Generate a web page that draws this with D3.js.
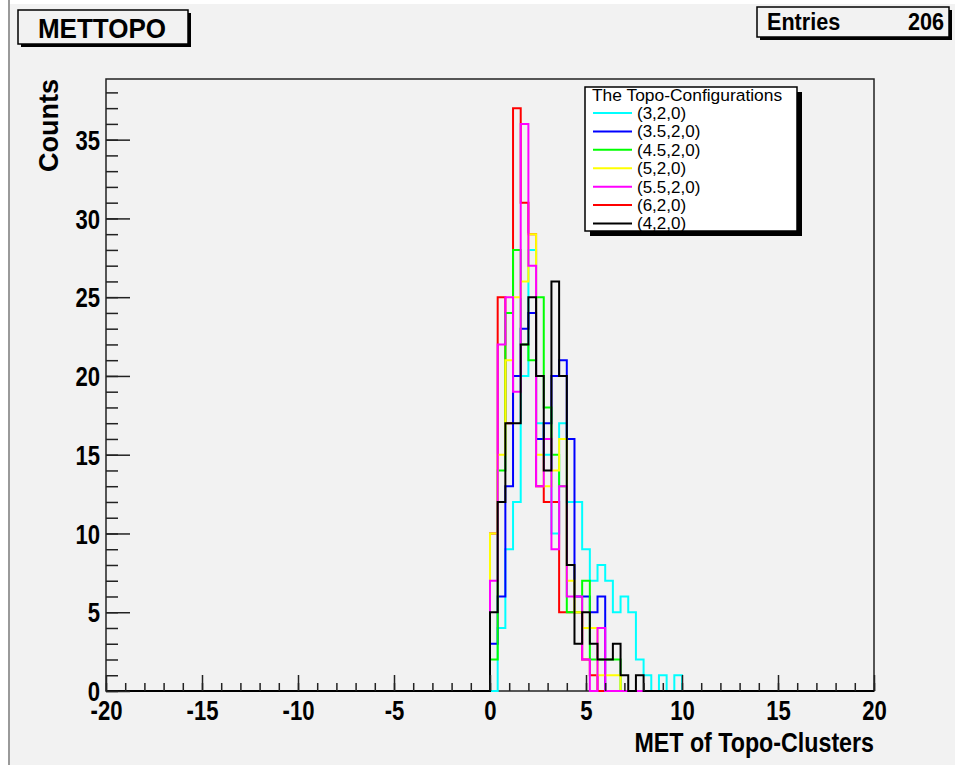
<!DOCTYPE html>
<html>
<head>
<meta charset="utf-8">
<script src="https://cdn.jsdelivr.net/npm/d3@7"></script>
<style>
  body { margin: 0; background: #fff; }
  svg { display: block; font-family: "Liberation Sans", Arial, Helvetica, sans-serif; }
</style>
</head>
<body>
<div id="chart"></div>
<script>
// Histogram METTOPO: 100 bins from -20 to 20, counts listed from the bin starting at x = 0
const X_MIN = -20, X_MAX = 20, N_BINS = 100;
const FIRST_FILLED_X = 0;

const configs = ['(3,2,0)', '(3.5,2,0)', '(4.5,2,0)', '(5,2,0)', '(5.5,2,0)', '(6,2,0)', '(4,2,0)'];
const colors  = ['#00ffff', '#0000ff', '#00ff00', '#ffff00', '#ff00ff', '#ff0000', '#000000'];

const counts_3_2_0   = [0, 4, 9, 12, 20, 28, 17, 15, 10, 17, 12, 12, 9, 7, 8, 7, 5, 6, 5, 2, 1, 0, 1, 0, 1, 0];
const counts_3p5_2_0 = [3, 6, 13, 20, 23, 24, 16, 17, 20, 21, 16, 6, 6, 5, 6, 0];
const counts_4p5_2_0 = [2, 14, 24, 28, 22, 21, 25, 18, 15, 13, 5, 5, 7, 2, 2, 2, 2, 0];
const counts_5_2_0   = [10, 15, 21, 25, 26, 29, 15, 13, 14, 16, 7, 5, 4, 4, 1, 1, 1, 0];
const counts_5p5_2_0 = [7, 22, 25, 19, 36, 27, 13, 16, 9, 13, 6, 6, 2, 0, 4, 0];
const counts_6_2_0   = [10, 25, 17, 37, 31, 29, 13, 12, 12, 5, 5, 5, 2, 1, 0];
const counts_4_2_0   = [5, 12, 17, 17, 22, 25, 20, 14, 26, 20, 8, 3, 5, 3, 2, 2, 3, 1, 0, 1, 0];

const seriesCounts = [counts_3_2_0, counts_3p5_2_0, counts_4p5_2_0, counts_5_2_0,
                      counts_5p5_2_0, counts_6_2_0, counts_4_2_0];
// order in which the histograms are painted (indices into configs)
const drawOrder = [5, 0, 1, 2, 3, 4, 6];

const xMajorTicks = [-20, -15, -10, -5, 0, 5, 10, 15, 20];
const yMajorTicks = [0, 5, 10, 15, 20, 25, 30, 35];
const entries = 206;

const W = 955, H = 765;
const frame = { left: 106, right: 874, top: 79, bottom: 691 };
const BG = '#f2f2f2';

const svg = d3.select('#chart').append('svg').attr('width', W).attr('height', H);

// canvas
svg.append('rect').attr('width', W).attr('height', H).attr('fill', '#fff');
svg.append('rect').attr('x', 10).attr('y', 4).attr('width', W - 10).attr('height', H - 4).attr('fill', BG);
svg.append('line').attr('x1', 9).attr('x2', 9).attr('y1', 0).attr('y2', H)
  .attr('stroke', '#9a9a9a').attr('stroke-width', 2);

const binWidth = (X_MAX - X_MIN) / N_BINS;
const yMax = 1.05 * d3.max(seriesCounts, s => d3.max(s));

const x = d3.scaleLinear().domain([X_MIN, X_MAX]).range([frame.left, frame.right]);
const y = d3.scaleLinear().domain([0, yMax]).range([frame.bottom, frame.top]);

// frame
svg.append('rect')
  .attr('x', frame.left).attr('y', frame.top)
  .attr('width', frame.right - frame.left).attr('height', frame.bottom - frame.top)
  .attr('fill', BG).attr('stroke', '#222').attr('stroke-width', 1.5);

// histograms as step outlines
function binsOf(counts) {
  const first = Math.round((FIRST_FILLED_X - X_MIN) / binWidth);
  return d3.range(N_BINS).map(i => ({
    lo: X_MIN + i * binWidth,
    v: (i >= first && i - first < counts.length) ? counts[i - first] : 0
  }));
}

const step = d3.line().x(d => x(d.lo)).y(d => y(d.v)).curve(d3.curveStepAfter);

const histG = svg.append('g');
drawOrder.forEach(si => {
  const bins = binsOf(seriesCounts[si]);
  const pts = [{ lo: X_MIN, v: 0 }, ...bins, { lo: X_MAX, v: bins[bins.length - 1].v }, { lo: X_MAX, v: 0 }];
  histG.append('path')
    .attr('d', step(pts))
    .attr('fill', 'none')
    .attr('stroke', colors[si])
    .attr('stroke-width', 2);
});

// axes, ticks inside the frame
const TXT_SX = 0.82;
const plain = d => String(d); // ascii hyphen for negatives, like the original
const xAxisG = svg.append('g').attr('transform', `translate(0,${frame.bottom})`);
xAxisG.call(d3.axisBottom(x).tickValues(d3.range(X_MIN, X_MAX + 1, 1)).tickSize(-8).tickFormat(''))
  .call(g => g.select('.domain').remove());
xAxisG.append('g')
  .call(d3.axisBottom(x).tickValues(xMajorTicks).tickSize(-16).tickPadding(29).tickFormat(plain))
  .call(g => g.select('.domain').remove())
  .call(g => g.selectAll('text')
    .attr('dy', 0)
    .attr('fill', '#000')
    .attr('font-size', 27).attr('font-weight', 'bold')
    .attr('transform', `scale(${TXT_SX},1)`));

const yAxisG = svg.append('g').attr('transform', `translate(${frame.left},0)`);
yAxisG.call(d3.axisLeft(y).tickValues(d3.range(0, Math.floor(yMax) + 1, 1)).tickSize(-12).tickFormat(''))
  .call(g => g.select('.domain').remove());
yAxisG.append('g')
  .call(d3.axisLeft(y).tickValues(yMajorTicks).tickSize(-24).tickFormat(plain))
  .call(g => g.select('.domain').remove())
  .call(g => g.selectAll('text')
    .attr('x', -6 / TXT_SX)
    .attr('dy', '0.36em')
    .attr('fill', '#000')
    .attr('font-size', 27).attr('font-weight', 'bold')
    .attr('transform', `scale(${TXT_SX},1)`));

svg.selectAll('.tick line').attr('stroke', '#222').attr('stroke-width', 1.5);

// axis titles
svg.append('text')
  .attr('transform', `translate(${frame.right},752) scale(0.83,1)`)
  .attr('text-anchor', 'end').attr('font-size', 28).attr('font-weight', 'bold')
  .text('MET of Topo-Clusters');

svg.append('text')
  .attr('transform', `translate(58,${frame.top}) rotate(-90)`)
  .attr('text-anchor', 'end').attr('font-size', 27).attr('font-weight', 'bold')
  .text('Counts');

// title box
function shadowBox(bx, by, bw, bh, off, fill) {
  svg.append('rect').attr('x', bx + off).attr('y', by + off).attr('width', bw).attr('height', bh).attr('fill', '#000');
  svg.append('rect').attr('x', bx).attr('y', by).attr('width', bw).attr('height', bh)
    .attr('fill', fill).attr('stroke', '#000').attr('stroke-width', 1.5);
}

shadowBox(18, 10, 170, 34, 3, BG);
svg.append('text')
  .attr('transform', 'translate(102,38) scale(0.93,1)')
  .attr('text-anchor', 'middle').attr('font-size', 28).attr('font-weight', 'bold')
  .text('METTOPO');

// stats box
shadowBox(757, 7, 192, 30, 3, BG);
svg.append('text')
  .attr('transform', 'translate(767,30) scale(0.9,1)')
  .attr('font-size', 24).attr('font-weight', 'bold').text('Entries');
svg.append('text')
  .attr('transform', 'translate(944,30) scale(0.9,1)')
  .attr('text-anchor', 'end').attr('font-size', 24).attr('font-weight', 'bold').text(entries);

// legend
const leg = { x: 585, y: 87, w: 212, h: 144 };
svg.append('rect').attr('x', leg.x + 5).attr('y', leg.y + 5).attr('width', leg.w).attr('height', leg.h).attr('fill', '#000');
svg.append('rect').attr('x', leg.x).attr('y', leg.y).attr('width', leg.w).attr('height', leg.h)
  .attr('fill', '#fff').attr('stroke', '#000').attr('stroke-width', 1.5);
svg.append('text').attr('x', 592).attr('y', 101).attr('font-size', 17.4).text('The Topo-Configurations');

const rowY = d3.scalePoint().domain(configs).range([113, 223.5]);
const rows = svg.append('g').selectAll('g').data(configs).join('g')
  .attr('transform', d => `translate(0,${rowY(d)})`);
rows.append('line').attr('x1', 593).attr('x2', 632)
  .attr('stroke', (d, i) => colors[i]).attr('stroke-width', 2);
rows.append('text').attr('x', 637).attr('dy', '0.35em').attr('font-size', 17).text(d => d);
</script>
</body>
</html>
